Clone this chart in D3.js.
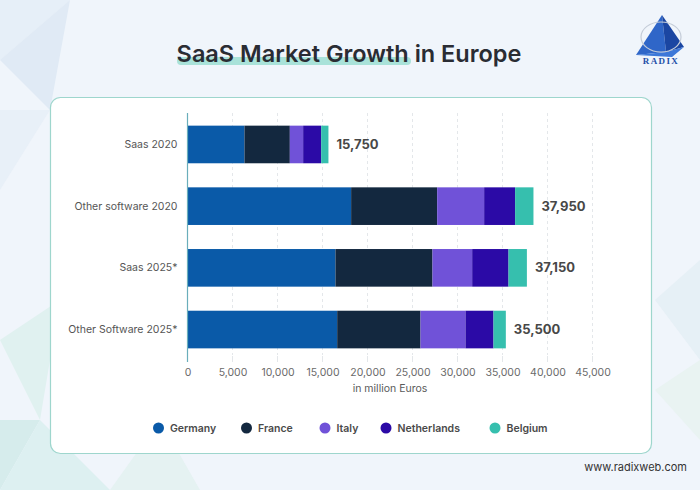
<!DOCTYPE html>
<html><head><meta charset="utf-8">
<script src="https://cdn.jsdelivr.net/npm/d3@7"></script>
<style>
html,body{margin:0;padding:0;background:#eef4fa;}
svg{display:block;font-family:Inter,"Open Sans",sans-serif;}
</style></head>
<body>
<svg id="c" width="700" height="490"></svg>
<script>
const categories = ["Saas 2020", "Other software 2020", "Saas 2025*", "Other Software 2025*"];
const countries = ["Germany", "France", "Italy", "Netherlands", "Belgium"];
const germany     = [6330, 18180, 16440, 16630];
const france      = [5040, 9560, 10780, 9260];
const italy       = [1480, 5220, 4410, 5000];
const netherlands = [2000, 3440, 4040, 3110];
const belgium     = [810, 2040, 2040, 1370];
const totalLabels = ["15,750", "37,950", "37,150", "35,500"];
const xTicks = [0, 5000, 10000, 15000, 20000, 25000, 30000, 35000, 40000, 45000];
const colors = ["#0a5aa8", "#13283f", "#7052d8", "#2b0aa6", "#36bfae"];

const series = [germany, france, italy, netherlands, belgium];
const rows = categories.map((c, i) => {
  const r = {cat: c};
  countries.forEach((k, j) => r[k] = series[j][i]);
  return r;
});

const svg = d3.select("#c");

// background decoration
const bg = svg.append("g");
bg.append("rect").attr("width", 700).attr("height", 490).attr("fill", "#f0f5fb");
const tri = [
  [[0,0],[70,0],[0,60]], [[0,60],[70,0],[50,110]], [[0,110],[50,110],[0,190]],
  [[0,340],[60,300],[40,420]], [[0,420],[40,420],[0,490]], [[40,420],[110,490],[0,490]],
  [[110,490],[160,420],[200,490]], [[655,300],[700,260],[700,360]], [[655,390],[700,360],[700,440]]
];
const triCol = ["#e6eff8","#e0eaf5","#e8f0f8","#e0f1f0","#d6ecec","#ddf0f1","#e5f2f2","#e6f0f6","#e9f3f2"];
tri.forEach((p, i) => bg.append("polygon").attr("points", p.map(d => d.join(",")).join(" ")).attr("fill", triCol[i]));

// title
const tg = svg.append("g");
tg.append("rect").attr("x", 177).attr("y", 57).attr("width", 234).attr("height", 8).attr("rx", 4).attr("fill", "#a9e2d9");
tg.append("text").attr("x", 349).attr("y", 62).attr("text-anchor", "middle")
  .attr("font-size", 23.5).attr("font-weight", 600).attr("fill", "#2a2c33").text("SaaS Market Growth in Europe");

// logo
const lg = svg.append("g");
lg.append("polygon").attr("points", "662,15 636,55 666,52").attr("fill", "#2f66c8");
lg.append("polygon").attr("points", "662,15 666,52 684,47").attr("fill", "#1b46a2");
lg.append("polygon").attr("points", "636,55 666,52 684,47 672,57").attr("fill", "#3d78d8");
lg.append("ellipse").attr("cx", 661).attr("cy", 37).attr("rx", 20).attr("ry", 15)
  .attr("fill", "none").attr("stroke", "#c4ccd8").attr("stroke-width", 1.2);
lg.append("text").attr("x", 661).attr("y", 64).attr("text-anchor", "middle")
  .attr("font-family", "'Liberation Serif',serif").attr("font-weight", 700).attr("font-size", 9)
  .attr("letter-spacing", 1.4).attr("fill", "#1f4fa8").text("RADIX");

// card
svg.append("rect").attr("x", 50.5).attr("y", 97.5).attr("width", 601).attr("height", 356).attr("rx", 10)
  .attr("fill", "#ffffff").attr("stroke", "#9ed6cd").attr("stroke-width", 1.2);

// scales
const x = d3.scaleLinear().domain([0, 45000]).range([187.5, 592.5]);
const y = d3.scaleBand().domain(categories).range([113, 361]).paddingInner(0.39).paddingOuter(0.205);

// grid
const gg = svg.append("g");
gg.selectAll("line").data(xTicks.slice(1)).join("line")
  .attr("x1", d => x(d)).attr("x2", d => x(d)).attr("y1", 113).attr("y2", 355)
  .attr("stroke", "#e4e7ea").attr("stroke-dasharray", "3,3").attr("stroke-width", 1);
gg.selectAll("line.t").data(xTicks.slice(1)).join("line").attr("class", "t")
  .attr("x1", d => x(d)).attr("x2", d => x(d)).attr("y1", 356).attr("y2", 362)
  .attr("stroke", "#e4e7ea");

// x axis labels
const xa = svg.append("g").attr("transform", "translate(0,362)")
  .call(d3.axisBottom(x).tickValues(xTicks).tickFormat(d3.format(",")).tickSize(0).tickPadding(7));
xa.select(".domain").remove();
xa.selectAll("text").attr("font-family", "Inter,sans-serif").attr("font-size", 10.5).attr("fill", "#6a6a6a");
svg.append("text").attr("x", 390).attr("y", 392).attr("text-anchor", "middle")
  .attr("font-size", 10.5).attr("fill", "#5a5a5a").text("in million Euros");

// bars
const stack = d3.stack().keys(countries)(rows);
svg.append("g").selectAll("g").data(stack).join("g").attr("fill", (d, i) => colors[i])
  .selectAll("rect").data(d => d).join("rect")
  .attr("x", d => x(d[0])).attr("width", d => x(d[1]) - x(d[0]))
  .attr("y", d => y(d.data.cat)).attr("height", y.bandwidth());

// y axis
const ya = svg.append("g").attr("transform", "translate(187.5,0)")
  .call(d3.axisLeft(y).tickSize(0).tickPadding(10));
ya.select(".domain").attr("d", "M0,113V362").attr("stroke", "#6aaebb").attr("stroke-width", 1.2);
ya.selectAll("text").attr("font-family", "Inter,sans-serif").attr("font-size", 10.5).attr("fill", "#555");

// totals
const last = stack[stack.length - 1];
svg.append("g").selectAll("text").data(last).join("text")
  .attr("x", d => x(d[1]) + 8).attr("y", d => y(d.data.cat) + y.bandwidth() / 2).attr("dy", "0.35em")
  .attr("font-size", 13).attr("font-weight", 700).attr("fill", "#474747")
  .text((d, i) => totalLabels[i]);

// legend
const legX = [158.5, 246.5, 325, 386, 495];
const leg = svg.append("g").selectAll("g").data(countries).join("g")
  .attr("transform", (d, i) => `translate(${legX[i]},428)`);
leg.append("circle").attr("r", 5.5).attr("fill", (d, i) => colors[i]);
leg.append("text").attr("x", 11.5).attr("dy", "0.35em").attr("font-size", 10.5).attr("font-weight", 600)
  .attr("fill", "#4a4a4a").text(d => d);

// footer
svg.append("text").attr("x", 687).attr("y", 467).attr("text-anchor", "end").attr("dy", "0.35em")
  .attr("font-size", 11).attr("fill", "#333").text("www.radixweb.com");
</script>
</body></html>
